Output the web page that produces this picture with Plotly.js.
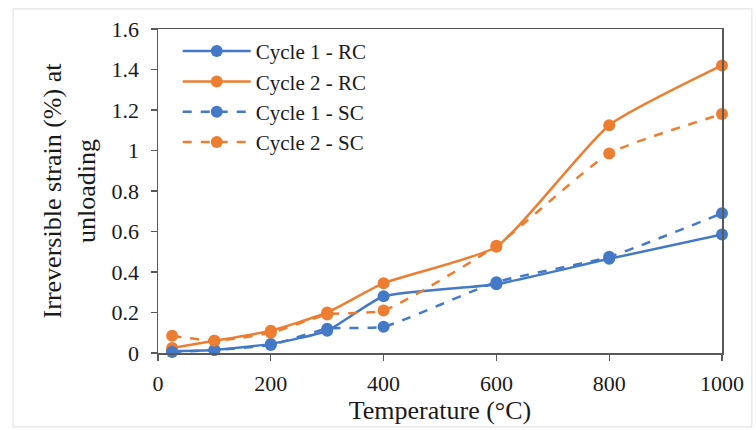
<!DOCTYPE html>
<html>
<head>
<meta charset="utf-8">
<script src="https://cdn.plot.ly/plotly-3.0.1.min.js"></script>
<style>
  html, body { margin: 0; padding: 0; background: #ffffff; }
  #chart { width: 756px; height: 430px; }
</style>
</head>
<body>
<div id="chart"></div>
<script>
// Test temperatures (°C)
const temperatures = [25, 100, 200, 300, 400, 600, 800, 1000];

// Irreversible strain (%) at unloading
const cycle1RC = [0.010, 0.015, 0.045, 0.110, 0.280, 0.340, 0.465, 0.585];
const cycle2RC = [0.025, 0.060, 0.110, 0.200, 0.345, 0.525, 1.125, 1.420];
const cycle1SC = [0.005, 0.015, 0.040, 0.120, 0.130, 0.350, 0.475, 0.690];
const cycle2SC = [0.085, 0.060, 0.100, 0.190, 0.210, 0.530, 0.985, 1.180];

const seriesNames = ['Cycle 1 - RC', 'Cycle 2 - RC', 'Cycle 1 - SC', 'Cycle 2 - SC'];

const BLUE = '#4479C7';
const ORANGE = '#ED7D31';
const FONT = '"Liberation Serif", "Times New Roman", serif';
const TEXT = '#1a1a1a';

function series(name, values, color, dash) {
  return {
    type: 'scatter',
    mode: 'lines+markers',
    name: name,
    x: temperatures,
    y: values,
    cliponaxis: false,
    line: { color: color, width: 2.5, dash: dash, shape: 'spline', smoothing: 0.5 },
    marker: { color: color, size: 12, symbol: 'circle' }
  };
}

const data = [
  series(seriesNames[0], cycle1RC, BLUE, 'solid'),
  series(seriesNames[1], cycle2RC, ORANGE, 'solid'),
  series(seriesNames[2], cycle1SC, BLUE, 'dash'),
  series(seriesNames[3], cycle2SC, ORANGE, 'dash')
];

const axisLine = '#595959';

const layout = {
  width: 756,
  height: 430,
  margin: { l: 158, r: 34, t: 29, b: 77 },
  paper_bgcolor: '#ffffff',
  plot_bgcolor: '#ffffff',
  font: { family: FONT, color: TEXT, size: 21 },
  showlegend: true,
  legend: {
    x: 0.035, y: 0.994, xanchor: 'left', yanchor: 'top',
    bgcolor: 'rgba(255,255,255,0)',
    font: { family: FONT, size: 21, color: TEXT },
    itemwidth: 68,
    tracegroupgap: 0
  },
  xaxis: {
    range: [0, 1000],
    tick0: 0, dtick: 200,
    showgrid: false, zeroline: false,
    showline: true, linecolor: axisLine, linewidth: 1.5, mirror: true,
    ticks: 'outside', ticklen: 6, tickwidth: 1.2, tickcolor: axisLine,
    ticklabelstandoff: 4,
    tickfont: { family: FONT, size: 22, color: TEXT },
    title: { text: 'Temperature (°C)', font: { family: FONT, size: 26, color: TEXT }, standoff: 6 }
  },
  yaxis: {
    range: [0, 1.6],
    tick0: 0, dtick: 0.2,
    showgrid: false, zeroline: false,
    showline: true, linecolor: axisLine, linewidth: 1.5, mirror: true,
    ticks: 'outside', ticklen: 6, tickwidth: 1.2, tickcolor: axisLine,
    ticklabelstandoff: 7,
    tickfont: { family: FONT, size: 22, color: TEXT },
    title: { text: 'Irreversible strain (%) at<br>unloading', font: { family: FONT, size: 26, color: TEXT }, standoff: 8 }
  },
  shapes: [
    {
      type: 'rect', xref: 'paper', yref: 'paper',
      x0: -0.257, x1: 1.053, y0: -0.228, y1: 1.062,
      line: { color: '#dedede', width: 1 }, fillcolor: 'rgba(0,0,0,0)', layer: 'below'
    }
  ]
};

Plotly.newPlot('chart', data, layout, { displayModeBar: false, staticPlot: true });
</script>
</body>
</html>
